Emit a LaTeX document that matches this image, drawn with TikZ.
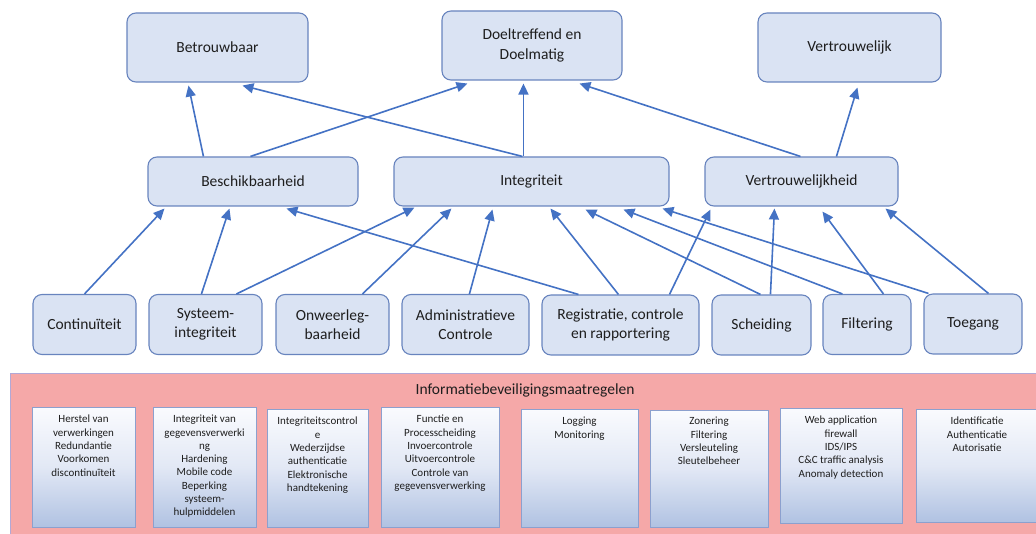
\documentclass[tikz,border=0pt]{standalone}
\usepackage{fontspec}
\setmainfont{Carlito}
\usetikzlibrary{arrows.meta,calc}

\definecolor{boxfill}{RGB}{218,227,243}
\definecolor{boxline}{RGB}{104,132,190}
\definecolor{arrowblue}{RGB}{68,114,196}
\definecolor{ink}{RGB}{30,30,30}
\definecolor{panelfill}{RGB}{245,168,168}
\definecolor{panelline}{RGB}{178,168,214}
\definecolor{listtop}{RGB}{250,251,254}
\definecolor{listbottom}{RGB}{176,194,226}
\definecolor{listline}{RGB}{140,160,206}

\newcommand\nodefs{\fontsize{15.5}{19.5}\selectfont}
\newcommand\listfs{\fontsize{11}{13.3}\selectfont}

\tikzset{
  goal/.style={draw=boxline, fill=boxfill, rounded corners=9pt, line width=1.1pt,
    inner sep=0pt, align=center, font=\nodefs, text=ink},
  arr/.style={draw=arrowblue, line width=1.6pt, -{Triangle[length=11pt,width=10pt]}},
  measure/.style={draw=listline, line width=0.8pt, top color=listtop, bottom color=listbottom,
    middle color={rgb,255:red,226;green,232;blue,245}},
  measuretext/.style={anchor=north, align=center, font=\listfs, text=ink, inner sep=0pt}
}

\begin{document}
\begin{tikzpicture}[x=1pt,y=-1pt]
\useasboundingbox (0,0) rectangle (1036,534);

% ---- top level: goals ----
\node[goal, minimum width=181, minimum height=69] (betr) at (217.5,47.5) {Betrouwbaar};
\node[goal, minimum width=180, minimum height=69] (doel) at (532,45.5) {Doeltreffend en\\Doelmatig};
\node[goal, minimum width=183, minimum height=69] (vert) at (849.5,47.5) {Vertrouwelijk};

% ---- middle level: quality aspects ----
\node[goal, minimum width=210, minimum height=49] (besch) at (253,181.5) {Beschikbaarheid};
\node[goal, minimum width=275, minimum height=49] (integ) at (531.5,181.5) {Integriteit};
\node[goal, minimum width=193, minimum height=49] (vertr) at (801.5,181.5) {Vertrouwelijkheid};

% ---- bottom level: control areas ----
\node[goal, minimum width=103, minimum height=60] (cont)  at (84.5,324.5) {Continuïteit};
\node[goal, minimum width=113, minimum height=60] (syst)  at (205.5,324.5) {Systeem-\\integriteit};
\node[goal, minimum width=113, minimum height=60] (onw)   at (332.5,324.5) {Onweerleg-\\baarheid};
\node[goal, minimum width=127, minimum height=60] (admin) at (465.5,324.5) {Administratieve\\Controle};
\node[goal, minimum width=157, minimum height=60] (reg)   at (620.5,325) {Registratie, controle\\en rapportering};
\node[goal, minimum width=99,  minimum height=60] (sch)   at (761.5,325) {Scheiding};
\node[goal, minimum width=88,  minimum height=60] (filt)  at (867,324.5) {Filtering};
\node[goal, minimum width=98,  minimum height=60] (toeg)  at (973,324) {Toegang};

% ---- arrows bottom -> middle ----
\draw[arr] (cont.north) -- ($(besch.south west)+(17,2)$);
\draw[arr] ($(syst.north west)+(53,0)$) -- ($(besch.south west)+(82,2)$);
\draw[arr] ($(syst.north west)+(88,0)$) -- ($(integ.south west)+(21,1)$);
\draw[arr] ($(onw.north west)+(87,0)$) -- ($(integ.south west)+(58,2)$);
\draw[arr] ($(admin.north west)+(68,0)$) -- ($(integ.south west)+(99,3)$);
\draw[arr] ($(reg.north west)+(37,0)$) -- ($(besch.south west)+(139,2)$);
\draw[arr] ($(reg.north west)+(77,0)$) -- ($(integ.south west)+(157,2)$);
\draw[arr] ($(reg.north west)+(128,0)$) -- ($(vertr.south west)+(6,3)$);
\draw[arr] ($(sch.north west)+(49,0)$) -- ($(integ.south west)+(192,3)$);
\draw[arr] ($(sch.north west)+(59,0)$) -- ($(vertr.south west)+(70,2)$);
\draw[arr] ($(filt.north west)+(20,0)$) -- ($(integ.south west)+(230,3)$);
\draw[arr] ($(filt.north west)+(61,0)$) -- ($(vertr.south west)+(118,5)$);
\draw[arr] ($(toeg.north west)+(5,0)$) -- ($(integ.south west)+(269,2)$);
\draw[arr] ($(toeg.north west)+(65,0)$) -- ($(vertr.south west)+(181,2)$);

% ---- arrows middle -> top ----
\draw[arr] ($(besch.north west)+(56,0)$) -- ($(betr.south west)+(62,3)$);
\draw[arr] ($(integ.north west)+(129,0)$) -- ($(betr.south west)+(116,3)$);
\draw[arr] ($(besch.north west)+(103,0)$) -- ($(doel.south west)+(26,3)$);
\draw[arr] ($(integ.north west)+(130,0)$) -- ($(doel.south west)+(82,3)$);
\draw[arr] ($(vertr.north west)+(96,0)$) -- ($(doel.south west)+(138,3)$);
\draw[arr] ($(vertr.north west)+(132,0)$) -- ($(vert.south west)+(100,5)$);

% ---- measures panel ----
\node[draw=panelline, fill=panelfill, line width=1pt, inner sep=0pt, anchor=north west,
      minimum width=1040, minimum height=170] (panel) at (10,373) {};
\node[font=\nodefs, text=ink, inner sep=0pt] (ptitle) at (525,390) {Informatiebeveiligingsmaatregelen};

\path[measure] (32,407) rectangle (135,527);
\node[measuretext] (t1) at (83.5,415) {Herstel van\\verwerkingen\\Redundantie\\Voorkomen\\discontinuïteit};

\path[measure] (153,407) rectangle (256,527);
\node[measuretext] (t2) at (204.5,415) {Integriteit van\\gegevensverwerki\\ng\\Hardening\\Mobile code\\Beperking\\systeem-\\hulpmiddelen};

\path[measure] (267,409) rectangle (368,527);
\node[measuretext] (t3) at (317.5,417) {Integriteitscontrol\\e\\Wederzijdse\\authenticatie\\Elektronische\\handtekening};

\path[measure] (381,407) rectangle (499,527);
\node[measuretext] (t4) at (440,415) {Functie en\\Processcheiding\\Invoercontrole\\Uitvoercontrole\\Controle van\\gegevensverwerking};

\path[measure] (521,409) rectangle (638,527);
\node[measuretext] (t5) at (579.5,417) {Logging\\Monitoring};

\path[measure] (650,410) rectangle (768,527);
\node[measuretext] (t6) at (709,417) {Zonering\\Filtering\\Versleuteling\\Sleutelbeheer};

\path[measure] (780,408) rectangle (902,523);
\node[measuretext] (t7) at (841,416) {Web application\\firewall\\IDS/IPS\\C\&C traffic analysis\\Anomaly detection};

\path[measure] (916,409) rectangle (1042,522);
\node[measuretext] (t8) at (977,417) {Identificatie\\Authenticatie\\Autorisatie};

\end{tikzpicture}
\end{document}
